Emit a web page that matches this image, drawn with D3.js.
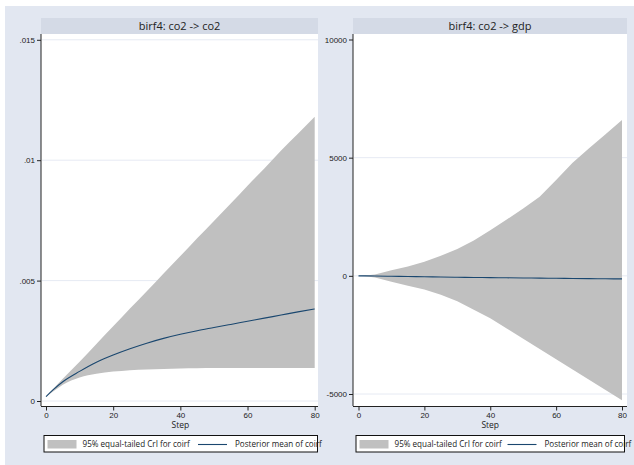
<!DOCTYPE html>
<html lang="en">
<head>
<meta charset="UTF-8">
<title>birf4</title>
<style>
  body { margin: 0; background: #ffffff; }
  svg { display: block; font-family: "Open Sans", sans-serif; }
</style>
</head>
<body>
<script src="https://cdnjs.cloudflare.com/ajax/libs/d3/7.8.5/d3.min.js"></script>
<script>
// steps
const steps = [0, 2, 5, 10, 15, 20, 25, 30, 35, 40, 45, 50, 55, 60, 65, 70, 75, 80];

// birf4: co2 -> co2
const co2Mean  = [0.00018, 0.00045, 0.0008, 0.00123, 0.00161, 0.00191, 0.00217, 0.0024, 0.0026, 0.00277, 0.00292, 0.00305, 0.00318, 0.00331, 0.00344, 0.00357, 0.0037, 0.00382];
const co2Lower = [0.00018, 0.00038, 0.00068, 0.00098, 0.00113, 0.00122, 0.00128, 0.00131, 0.00133, 0.00135, 0.00136, 0.00137, 0.00137, 0.00137, 0.00137, 0.00137, 0.00137, 0.00137];
const co2Upper = [0.00018, 0.00048, 0.00092, 0.00163, 0.00237, 0.0031, 0.00384, 0.00456, 0.0053, 0.00602, 0.00676, 0.00748, 0.0082, 0.00894, 0.00966, 0.0104, 0.0111, 0.0118];

// birf4: co2 -> gdp
const gdpMean  = [0, -3, -8, -20, -30, -40, -50, -60, -68, -75, -83, -90, -98, -105, -112, -118, -124, -130];
const gdpLower = [0, -15, -70, -250, -420, -580, -800, -1080, -1430, -1800, -2230, -2660, -3100, -3530, -3960, -4400, -4830, -5260];
const gdpUpper = [0, 10, 60, 240, 400, 592, 850, 1140, 1500, 1930, 2380, 2850, 3350, 4050, 4780, 5400, 5990, 6590];

const xTicks = [0, 20, 40, 60, 80];
const co2Ticks = [0, 0.005, 0.01, 0.015];
const co2TickLabels = ["0", ".005", ".01", ".015"];
const gdpTicks = [-5000, 0, 5000, 10000];
const gdpTickLabels = ["-5000", "0", "5000", "10000"];

const legendLabels = ["95% equal-tailed CrI for coirf", "Posterior mean of coirf"];

const width = 634, height = 465;
const svg = d3.select("body").append("svg")
    .attr("width", width)
    .attr("height", height);

// graph region
svg.append("rect")
    .attr("x", 5).attr("y", 6)
    .attr("width", width - 5).attr("height", height - 6)
    .attr("fill", "#e2e7f1");

function drawPanel(opt) {
    const g = svg.append("g");
    const box = opt.box;

    const x = d3.scaleLinear().domain([0, 80]).range(opt.xRange);
    const y = d3.scaleLinear().domain(opt.yDomain).range(opt.yRange);

    // subtitle bar
    g.append("rect")
        .attr("x", box.left).attr("y", 18)
        .attr("width", box.right - box.left).attr("height", 16)
        .attr("fill", "#d4dae6");
    g.append("text")
        .attr("x", (box.left + box.right) / 2)
        .attr("y", 26)
        .attr("dy", "0.35em")
        .attr("text-anchor", "middle")
        .attr("font-size", 11)
        .attr("fill", "#222")
        .text(opt.title);

    // plot region
    g.append("rect")
        .attr("x", box.left).attr("y", 34)
        .attr("width", box.right - box.left).attr("height", box.bottom - 34)
        .attr("fill", "#ffffff");

    // grid lines
    g.selectAll(".grid")
        .data(opt.gridTicks)
        .join("line")
        .attr("x1", box.left + 1).attr("x2", box.right)
        .attr("y1", d => y(d)).attr("y2", d => y(d))
        .attr("stroke", "#e6eaf3")
        .attr("stroke-width", 1);

    const rows = steps.map((s, i) => ({ s: s, mean: opt.mean[i], lo: opt.lower[i], hi: opt.upper[i] }));

    const area = d3.area()
        .x(d => x(d.s))
        .y0(d => y(d.lo))
        .y1(d => y(d.hi))
        .curve(opt.curve);
    g.append("path")
        .datum(rows)
        .attr("d", area)
        .attr("fill", "#c0c0c0");

    const line = d3.line()
        .x(d => x(d.s))
        .y(d => y(d.mean))
        .curve(d3.curveMonotoneX);
    g.append("path")
        .datum(rows)
        .attr("d", line)
        .attr("fill", "none")
        .attr("stroke", "#1a476f")
        .attr("stroke-width", 1.1);

    // y axis
    const yAxis = d3.axisLeft(y)
        .tickValues(opt.yTicks)
        .tickFormat((d, i) => opt.yTickLabels[i])
        .tickSize(4)
        .tickSizeOuter(0)
        .tickPadding(2);
    const ya = g.append("g")
        .attr("transform", `translate(${box.left},0)`)
        .call(yAxis);
    ya.select(".domain").attr("d", `M0,34V${box.bottom}`).attr("stroke", "#222");
    ya.selectAll(".tick line").attr("stroke", "#222");
    ya.selectAll(".tick text").attr("font-size", 8).attr("fill", "#222");

    // x axis
    const xAxis = d3.axisBottom(x)
        .tickValues(xTicks)
        .tickSize(4)
        .tickSizeOuter(0)
        .tickPadding(2);
    const xa = g.append("g")
        .attr("transform", `translate(0,${box.bottom + 0.5})`)
        .call(xAxis);
    xa.select(".domain").attr("d", `M${box.left},0H${box.right}`).attr("stroke", "#222");
    xa.selectAll(".tick line").attr("stroke", "#222");
    xa.selectAll(".tick text").attr("font-size", 8).attr("fill", "#222");

    g.append("text")
        .attr("x", x(40))
        .attr("y", 425)
        .attr("dy", "0.35em")
        .attr("text-anchor", "middle")
        .attr("font-size", 8.5)
        .attr("fill", "#222")
        .text("Step");

    // legend
    const lg = opt.legend;
    g.append("rect")
        .attr("x", lg.left + 0.5).attr("y", 435.5)
        .attr("width", lg.right - lg.left).attr("height", 16.5)
        .attr("fill", "#ffffff")
        .attr("stroke", "#111")
        .attr("stroke-width", 1);
    g.append("rect")
        .attr("x", lg.left + 4).attr("y", 440)
        .attr("width", 29).attr("height", 8.5)
        .attr("fill", "#c0c0c0");
    g.append("text")
        .attr("x", lg.left + 39)
        .attr("y", 444)
        .attr("dy", "0.35em")
        .attr("font-size", 8.1)
        .attr("fill", "#222")
        .text(legendLabels[0]);
    g.append("line")
        .attr("x1", lg.lineX).attr("x2", lg.lineX + 29)
        .attr("y1", 444.5).attr("y2", 444.5)
        .attr("stroke", "#1a476f")
        .attr("stroke-width", 1.1);
    g.append("text")
        .attr("x", lg.lineX + 37)
        .attr("y", 444)
        .attr("dy", "0.35em")
        .attr("font-size", 8.1)
        .attr("fill", "#222")
        .text(legendLabels[1]);
}

drawPanel({
    title: "birf4: co2 -> co2",
    box: { left: 41, right: 318, bottom: 406 },
    xRange: [46, 314.7],
    yDomain: [0, 0.015],
    yRange: [401, 39.8],
    yTicks: co2Ticks,
    yTickLabels: co2TickLabels,
    gridTicks: co2Ticks,
    mean: co2Mean, lower: co2Lower, upper: co2Upper,
    curve: d3.curveMonotoneX,
    legend: { left: 43.5, right: 317, lineX: 198 }
});

drawPanel({
    title: "birf4: co2 -> gdp",
    box: { left: 353, right: 627, bottom: 406 },
    xRange: [358.5, 622],
    yDomain: [-5000, 10000],
    yRange: [394, 39.5],
    yTicks: gdpTicks,
    yTickLabels: gdpTickLabels,
    gridTicks: [-5000, 0, 5000],
    mean: gdpMean, lower: gdpLower, upper: gdpUpper,
    curve: d3.curveLinear,
    legend: { left: 355.5, right: 624, lineX: 507.5 }
});
</script>
</body>
</html>
